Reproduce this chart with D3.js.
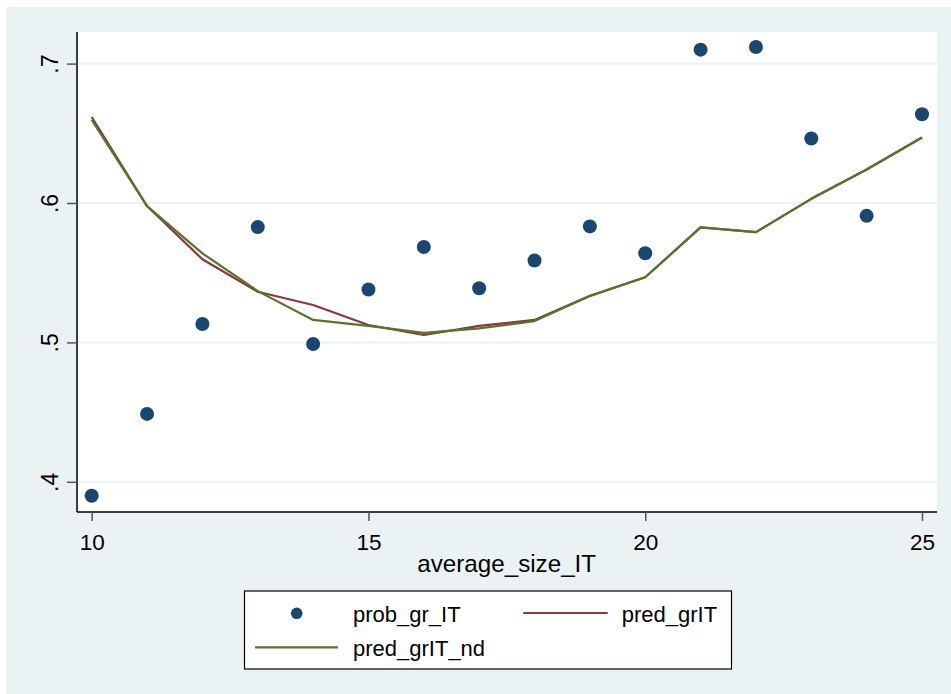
<!DOCTYPE html>
<html>
<head>
<meta charset="utf-8">
<script src="https://cdn.jsdelivr.net/npm/d3@7"></script>
<style>
  html, body { margin: 0; padding: 0; background: #ffffff; }
  svg { display: block; }
  text { font-family: "Liberation Sans", Arial, Helvetica, sans-serif; fill: #000; }
</style>
</head>
<body>
<svg id="chart" width="951" height="694"></svg>
<script>
// ---- data ----
const sizes = [10, 11, 12, 13, 14, 15, 16, 17, 18, 19, 20, 21, 22, 23, 24, 25];
const probGrIT = [0.390, 0.4487, 0.5132, 0.5827, 0.4989, 0.5380, 0.5684, 0.5388, 0.5588, 0.5832, 0.5639, 0.7100, 0.7119, 0.6463, 0.5908, 0.6637];
const predGrIT = [0.6617, 0.5978, 0.5596, 0.5363, 0.5268, 0.5125, 0.5053, 0.5118, 0.5161, 0.5335, 0.5467, 0.5825, 0.5791, 0.6030, 0.6240, 0.6470];
const predGrITnd = [0.6596, 0.5978, 0.5639, 0.5368, 0.5161, 0.5118, 0.5068, 0.5101, 0.5153, 0.5332, 0.5467, 0.5825, 0.5791, 0.6030, 0.6240, 0.6470];
const xTicks = [10, 15, 20, 25];
const yTicks = [0.4, 0.5, 0.6, 0.7];
const yTickLabels = [".4", ".5", ".6", ".7"];
const xTitle = "average_size_IT";
const legendLabels = ["prob_gr_IT", "pred_grIT", "pred_grIT_nd"];

// ---- colours (Stata s2color) ----
const bg = "#EAF2F3";
const navy = "#1A476F";
const maroon = "#90353B";
const forest = "#55752F";

const svg = d3.select("#chart");

// outer graph region
svg.append("rect").attr("x", 6).attr("y", 7).attr("width", 945).attr("height", 687).attr("fill", bg);

// plot region
const plot = { left: 77, right: 937, top: 32, bottom: 512 };
svg.append("rect")
  .attr("x", plot.left).attr("y", plot.top)
  .attr("width", plot.right - plot.left).attr("height", plot.bottom - plot.top)
  .attr("fill", "#ffffff");

const x = d3.scaleLinear().domain([10, 25]).range([91.7, 922]);
const y = d3.scaleLinear().domain([0.4, 0.7]).range([481.8, 63.6]);

// gridlines
svg.append("g").selectAll("line").data(yTicks).join("line")
  .attr("x1", plot.left).attr("x2", plot.right)
  .attr("y1", d => y(d)).attr("y2", d => y(d))
  .attr("stroke", bg).attr("stroke-width", 2);

// y axis
const yAxis = d3.axisLeft(y).tickValues(yTicks).tickSize(10).tickFormat((d, i) => yTickLabels[i]);
const gy = svg.append("g").attr("transform", `translate(${plot.left},0)`).call(yAxis);
gy.select(".domain").attr("d", `M0,${plot.top}V${plot.bottom}`).attr("stroke", "#000").attr("stroke-width", 1.5);
gy.selectAll(".tick line").attr("stroke", "#555").attr("stroke-width", 1.5);
gy.selectAll(".tick text")
  .attr("x", 0).attr("dy", 0)
  .attr("transform", "translate(-19,0) rotate(-90)")
  .attr("text-anchor", "middle")
  .style("font-size", "23px")
  .style("font-family", "'Liberation Sans', Arial, sans-serif")
  .attr("fill", "#000");

// x axis
const xAxis = d3.axisBottom(x).tickValues(xTicks).tickSize(9).tickFormat(d3.format("d"));
const gx = svg.append("g").attr("transform", `translate(0,${plot.bottom})`).call(xAxis);
gx.select(".domain").attr("d", `M${plot.left},0H${plot.right}`).attr("stroke", "#000").attr("stroke-width", 1.5);
gx.selectAll(".tick line").attr("stroke", "#555").attr("stroke-width", 1.5);
gx.selectAll(".tick text")
  .attr("y", 0).attr("dy", 0)
  .attr("transform", "translate(0,37.5)")
  .style("font-size", "22.5px")
  .style("font-family", "'Liberation Sans', Arial, sans-serif")
  .attr("fill", "#000");

// x title
svg.append("text").attr("x", 506.7).attr("y", 572).attr("text-anchor", "middle")
  .style("font-size", "24.2px").text(xTitle);

// lines
const line = d3.line().x((d, i) => x(sizes[i])).y(d => y(d));
svg.append("path").datum(predGrIT).attr("d", line)
  .attr("fill", "none").attr("stroke", maroon).attr("stroke-width", 2.2).attr("stroke-linejoin", "round");
svg.append("path").datum(predGrITnd).attr("d", line)
  .attr("fill", "none").attr("stroke", forest).attr("stroke-width", 2.2).attr("stroke-linejoin", "round");

// points
svg.append("g").selectAll("circle").data(probGrIT).join("circle")
  .attr("cx", (d, i) => x(sizes[i])).attr("cy", d => y(d)).attr("r", 7)
  .attr("fill", navy);

// legend
const lg = svg.append("g");
lg.append("rect").attr("x", 244.5).attr("y", 591).attr("width", 487).attr("height", 78)
  .attr("fill", "#ffffff").attr("stroke", "#000").attr("stroke-width", 1.2);
lg.append("circle").attr("cx", 296.7).attr("cy", 613.3).attr("r", 5.8).attr("fill", navy);
lg.append("text").attr("x", 353).attr("y", 621.5).style("font-size", "22px").text(legendLabels[0]);
lg.append("line").attr("x1", 523.3).attr("x2", 607.7).attr("y1", 613).attr("y2", 613)
  .attr("stroke", maroon).attr("stroke-width", 2.2);
lg.append("text").attr("x", 621.7).attr("y", 621.5).style("font-size", "22px").text(legendLabels[1]);
lg.append("line").attr("x1", 255).attr("x2", 338).attr("y1", 647.3).attr("y2", 647.3)
  .attr("stroke", forest).attr("stroke-width", 2.2);
lg.append("text").attr("x", 353).attr("y", 655.5).style("font-size", "22px").text(legendLabels[2]);
</script>
</body>
</html>
